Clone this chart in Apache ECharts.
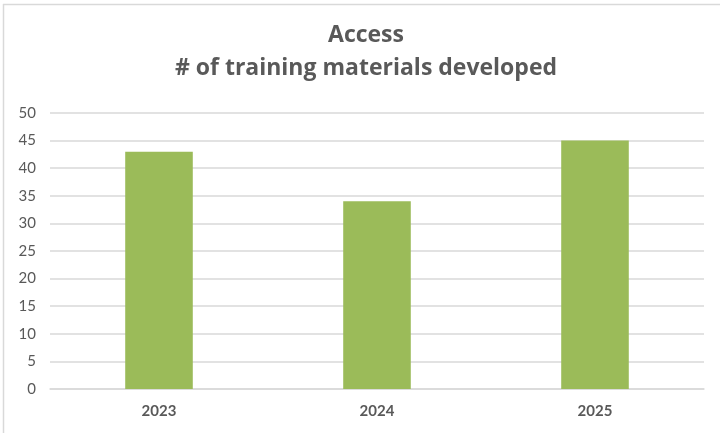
<!DOCTYPE html>
<html>
<head>
<meta charset="utf-8">
<script src="https://cdn.jsdelivr.net/npm/echarts@6/dist/echarts.min.js"></script>
<style>
  html, body { margin: 0; padding: 0; background: #fff; }
  #chart { width: 720px; height: 433px; position: relative; }
</style>
</head>
<body>
<div id="chart"></div>
<script>
// Training materials developed per year
const years = ['2023', '2024', '2025'];
const materials = [43, 34, 45];
const yTicks = { min: 0, max: 50, step: 5 };
const titleLines = ['Access', '# of training materials developed'];

const chart = echarts.init(document.getElementById('chart'), null, { renderer: 'canvas' });
const textColor = '#595959';
const titleFont = '"Open Sans", Lato, sans-serif';
const labelFont = 'Lato, "Open Sans", sans-serif';

chart.setOption({
  animation: false,
  backgroundColor: '#ffffff',
  title: {
    text: titleLines.join('\n'),
    left: 361,
    top: 14,
    textAlign: 'center',
    textStyle: {
      color: textColor,
      fontSize: 23,
      fontWeight: 'bold',
      fontFamily: titleFont,
      lineHeight: 33
    }
  },
  graphic: [
    { type: 'line', shape: { x1: 3.5, y1: 4, x2: 3.5, y2: 433 }, style: { stroke: '#d9d9d9', lineWidth: 1.5 } },
    { type: 'line', shape: { x1: 3, y1: 4.5, x2: 720, y2: 4.5 }, style: { stroke: '#d9d9d9', lineWidth: 1.5 } }
  ],
  grid: { left: 50, right: 16, top: 113, bottom: 44, containLabel: false },
  xAxis: {
    type: 'category',
    data: years,
    axisLine: { show: true, lineStyle: { color: '#d9d9d9', width: 1.5 } },
    axisTick: { show: false },
    axisLabel: {
      color: textColor,
      fontSize: 15,
      fontWeight: 'bold',
      fontFamily: labelFont,
      margin: 15
    }
  },
  yAxis: {
    type: 'value',
    min: yTicks.min,
    max: yTicks.max,
    interval: yTicks.step,
    axisLine: { show: false },
    axisTick: { show: false },
    splitLine: { lineStyle: { color: '#d9d9d9', width: 1.5 } },
    axisLabel: {
      color: textColor,
      fontSize: 15,
      fontFamily: labelFont,
      margin: 14
    }
  },
  series: [{
    type: 'bar',
    data: materials,
    barWidth: '31%',
    itemStyle: { color: '#9bbb59' }
  }]
});
</script>
</body>
</html>
